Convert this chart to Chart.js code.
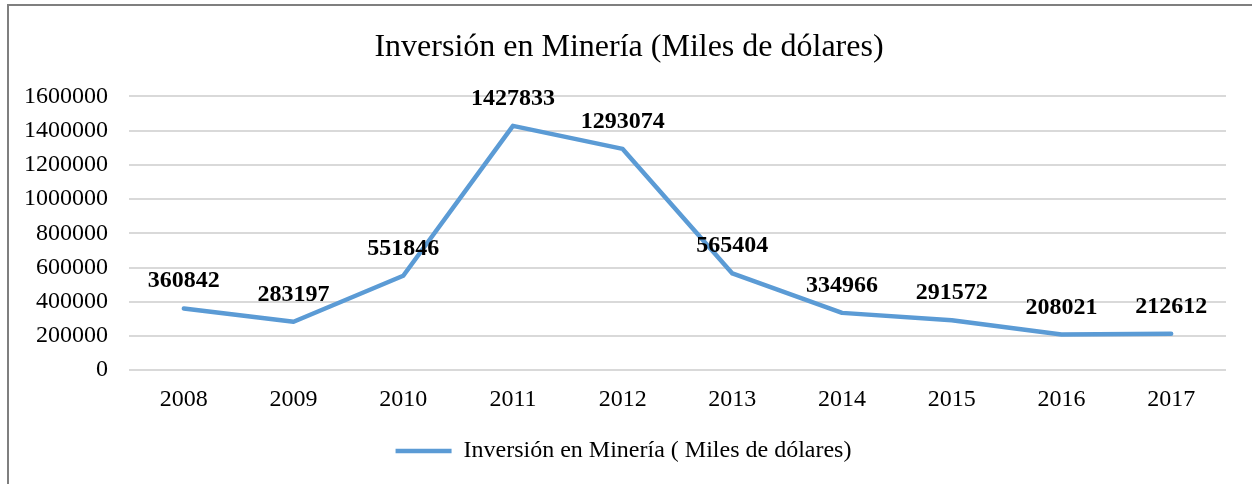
<!DOCTYPE html>
<html>
<head>
<meta charset="utf-8">
<script src="https://cdn.jsdelivr.net/npm/chart.js@4.4.1/dist/chart.umd.min.js"></script>
<style>
  body { margin: 0; background: #fff; }
  #frame {
    position: absolute; left: 7px; top: 4px;
    width: 1245px; height: 480px;
    border-left: 2px solid #7f7f7f; border-top: 2px solid #7f7f7f;
  }
</style>
</head>
<body>
<div id="frame"><canvas id="myChart" width="1243" height="478"></canvas></div>
<script>
var years = ["2008","2009","2010","2011","2012","2013","2014","2015","2016","2017"];
var inversion = [360842, 283197, 551846, 1427833, 1293074, 565404, 334966, 291572, 208021, 212612];
var serieName = "Inversión en Minería ( Miles de dólares)";
var chartTitle = "Inversión en Minería (Miles de dólares)";

var serif = "'Liberation Serif', 'Times New Roman', serif";

// draws the value above every point, like the excel data labels
var valueLabels = {
  id: "valueLabels",
  afterLayout: function (chart) {
    // the excel title sits a bit right of the padded middle
    if (chart.titleBlock) chart.titleBlock.left += 11;
  },
  afterDatasetsDraw: function (chart) {
    var ctx = chart.ctx;
    var meta = chart.getDatasetMeta(0);
    ctx.save();
    ctx.font = "bold 24px " + serif;
    ctx.fillStyle = "#000";
    ctx.textAlign = "center";
    ctx.textBaseline = "alphabetic";
    for (let i = 0; i < meta.data.length; i++) {
      var pt = meta.data[i];
      ctx.fillText(inversion[i], pt.x, pt.y - 21);
    }
    ctx.restore();
  }
};

var myChart = new Chart("myChart", {
  type: "line",
  data: {
    labels: years,
    datasets: [{
      label: serieName,
      data: inversion,
      borderColor: "#5b9bd5",
      backgroundColor: "#5b9bd5",
      borderWidth: 4.5,
      borderCapStyle: "round",
      borderJoinStyle: "round",
      pointRadius: 0,
      fill: false,
      tension: 0
    }]
  },
  options: {
    responsive: false,
    animation: false,
    layout: { padding: { left: 12, right: 26, bottom: 11 } },
    plugins: {
      title: {
        display: true,
        text: chartTitle,
        color: "#000",
        font: { family: serif, size: 32, weight: "normal" },
        padding: { top: 22, bottom: 30 }
      },
      legend: {
        position: "bottom",
        labels: {
          usePointStyle: true,
          pointStyle: "line",
          pointStyleWidth: 56,
          color: "#000",
          font: { family: serif, size: 24 },
          padding: 10
        }
      },
      tooltip: { enabled: false }
    },
    scales: {
      x: {
        offset: true,
        grid: { display: false, drawTicks: false },
        border: { display: false },
        ticks: { color: "#000", font: { family: serif, size: 24 }, padding: 15, maxRotation: 0 }
      },
      y: {
        min: 0,
        max: 1600000,
        grid: { color: "#d9d9d9", lineWidth: 2, drawTicks: false },
        border: { display: false },
        afterFit: function (axis) { axis.width = 108; },
        ticks: {
          stepSize: 200000,
          color: "#000",
          font: { family: serif, size: 24 },
          padding: 21,
          callback: function (value) { return String(value); }
        }
      }
    }
  },
  plugins: [valueLabels]
});
</script>
</body>
</html>
